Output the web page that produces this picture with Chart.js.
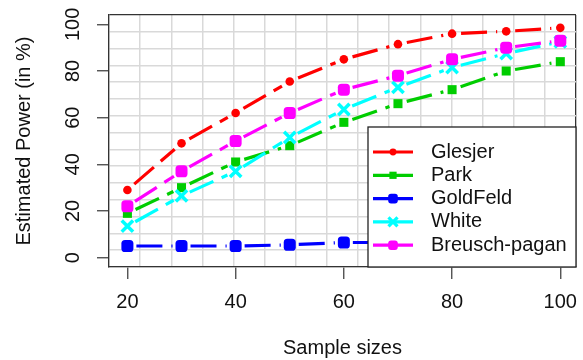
<!DOCTYPE html>
<html>
<head>
<meta charset="utf-8">
<script src="https://cdn.jsdelivr.net/npm/chart.js@4"></script>
<style>
  body { margin: 0; background: #fff; }
  canvas { display: block; }
</style>
</head>
<body>
<canvas id="grafico" width="583" height="360"></canvas>
<script>
// valores
const sampleSizes = [20, 30, 40, 50, 60, 70, 80, 90, 100];
const glesjer = [29, 49, 62, 75.5, 85, 91.5, 96, 97, 98.5];
const park = [19, 30, 41, 48, 58, 66, 72, 80, 84];
const goldfeld = [5, 5, 5, 5.5, 6.5, 6.5, 6, 6, 6];
const white = [13.5, 26.5, 37, 51.5, 63.5, 73, 81.5, 87.5, 92.5];
const breusch = [22, 37, 50, 62, 72, 78, 85, 90, 93];
const seriesNames = ['Glesjer', 'Park', 'GoldFeld', 'White', 'Breusch-pagan'];
const xTicks = [20, 40, 60, 80, 100];
const yTicks = [0, 20, 40, 60, 80, 100];

const fonte = '"Liberation Sans", Arial, sans-serif';
const X_MIN = 16.6, X_MAX = 102.9;
const Y_MIN = -4, Y_MAX = 104;

// tracejado estilo R (type = "b"): cada segmento comeca e termina com um espaco
function tracejado(ctx) {
  const L = Math.hypot(ctx.p1.x - ctx.p0.x, ctx.p1.y - ctx.p0.y);
  const folga = 9, traco = 26, vazio = 9;
  const V = L - 2 * folga;
  const arr = [];
  let pos = 0;
  while (pos < V) {
    const t = Math.min(traco, V - pos);
    arr.push(t); pos += t;
    if (pos >= V) break;
    const g = Math.min(vazio, V - pos);
    arr.push(g); pos += g;
  }
  if (arr.length === 0) return { arr: [0, L + 100], off: 0 };
  if (arr.length % 2 === 1) arr.push(L + 100);
  else arr[arr.length - 1] += L + 100;
  const total = arr.reduce((a, b) => a + b, 0);
  return { arr: arr, off: total - folga };
}

function serie(nome, valores, cor, estilo, raio, borda, ordem) {
  return {
    label: nome,
    data: sampleSizes.map((s, i) => ({ x: s, y: valores[i] })),
    borderColor: cor,
    backgroundColor: cor,
    borderWidth: 3.2,
    pointStyle: estilo,
    pointRadius: raio,
    pointBorderWidth: borda,
    pointBackgroundColor: cor,
    pointBorderColor: cor,
    order: ordem,
    segment: {
      borderDash: ctx => tracejado(ctx).arr,
      borderDashOffset: ctx => tracejado(ctx).off
    }
  };
}

// ticks com rotulo + linhas da grade (15 divisoes, como grid() do R)
function montarTicks(rotulos) {
  return function (scale) {
    const t = rotulos.map(v => ({ value: v, rotulo: true }));
    for (let k = 0; k <= 15; k++) {
      t.push({ value: scale.min + (scale.max - scale.min) * k / 15, rotulo: false, borda: k === 15 });
    }
    t.sort((a, b) => a.value - b.value);
    scale.ticks = t;
  };
}

function semPadding(s) {
  s.paddingLeft = 0; s.paddingRight = 0; s.paddingTop = 0; s.paddingBottom = 0;
  s.getPadding = () => ({ left: 0, right: 0, top: 0, bottom: 0 });
}

const gradeCor = ctx => ctx.tick.rotulo ? 'rgba(0,0,0,0)' : (ctx.tick.borda ? '#333' : '#d9d9d9');
const gradeLargura = ctx => ctx.tick.borda ? 1.3 : 1.5;
const marcaCor = ctx => ctx.tick.rotulo ? '#444' : 'rgba(0,0,0,0)';
const rotulo = (valor, i, ticks) => ticks[i].rotulo ? String(valor) : '';

const legendaR = {
  id: 'legendaR',
  afterDraw(chart) {
    const { ctx, chartArea: a } = chart;
    const w = 208, h = 140;
    const left = a.right - w, top = a.bottom - h;
    ctx.save();
    ctx.setLineDash([]);
    ctx.fillStyle = '#ffffff';
    ctx.fillRect(left, top, w, h);
    ctx.strokeStyle = '#222';
    ctx.lineWidth = 1.3;
    ctx.strokeRect(left, top, w, h);
    chart.data.datasets.forEach((ds, i) => {
      const y = top + 25 + i * 23.3;
      ctx.strokeStyle = ds.borderColor;
      ctx.fillStyle = ds.borderColor;
      ctx.lineWidth = 3.2;
      ctx.beginPath();
      ctx.moveTo(left + 5, y);
      ctx.lineTo(left + 45, y);
      ctx.stroke();
      const opts = { pointStyle: ds.pointStyle, radius: ds.pointRadius * 0.8, borderWidth: ds.pointBorderWidth, rotation: 0 };
      if (Chart.helpers && Chart.helpers.drawPoint) {
        Chart.helpers.drawPoint(ctx, opts, left + 25, y);
      } else {
        ctx.beginPath(); ctx.arc(left + 25, y, opts.radius, 0, Math.PI * 2); ctx.fill();
      }
      ctx.fillStyle = '#111';
      ctx.font = '20px ' + fonte;
      ctx.textBaseline = 'middle';
      ctx.textAlign = 'left';
      ctx.fillText(ds.label, left + 63, y);
    });
    ctx.restore();
  }
};

new Chart(document.getElementById('grafico'), {
  type: 'line',
  data: {
    datasets: [
      serie(seriesNames[0], glesjer, '#ff0000', 'circle', 4.3, 0, 4),
      serie(seriesNames[1], park, '#00cd00', 'rect', 6.4, 0, 3),
      serie(seriesNames[2], goldfeld, '#0000ff', 'rectRounded', 7, 0, 2),
      serie(seriesNames[3], white, '#00ffff', 'crossRot', 8, 3.5, 1),
      serie(seriesNames[4], breusch, '#ff00ff', 'rectRounded', 7, 0, 0)
    ]
  },
  options: {
    responsive: false,
    animation: false,
    layout: { autoPadding: false, padding: { top: 15, right: 7, left: 0, bottom: 0 } },
    plugins: { legend: { display: false }, tooltip: { enabled: false } },
    scales: {
      x: {
        type: 'linear', position: 'bottom', min: X_MIN, max: X_MAX,
        afterBuildTicks: montarTicks(xTicks),
        afterFit: s => { s.height = 93; semPadding(s); },
        grid: { drawOnChartArea: true, drawTicks: true, tickLength: 12, color: gradeCor, lineWidth: gradeLargura, tickColor: marcaCor, tickWidth: 1.3 },
        border: { display: true, color: '#333', width: 1.3 },
        ticks: { padding: 11, color: '#111', font: { size: 20, family: fonte }, maxRotation: 0, autoSkip: false, callback: rotulo },
        title: { display: true, text: 'Sample sizes', color: '#111', font: { size: 20, family: fonte }, padding: { top: 0, bottom: 0 } }
      },
      y: {
        type: 'linear', position: 'left', min: Y_MIN, max: Y_MAX,
        afterBuildTicks: montarTicks(yTicks),
        afterFit: s => { s.width = 109; semPadding(s); },
        grid: { drawOnChartArea: true, drawTicks: true, tickLength: 12, color: gradeCor, lineWidth: gradeLargura, tickColor: marcaCor, tickWidth: 1.3 },
        border: { display: true, color: '#333', width: 1.3 },
        ticks: { padding: 7, crossAlign: 'center', minRotation: 90, maxRotation: 90, color: '#111', font: { size: 20, family: fonte }, autoSkip: false, callback: rotulo },
        title: { display: true, text: 'Estimated Power (in %)', color: '#111', font: { size: 20, family: fonte }, padding: { top: 12, bottom: 0 } }
      }
    }
  },
  plugins: [legendaR]
});
</script>
</body>
</html>
